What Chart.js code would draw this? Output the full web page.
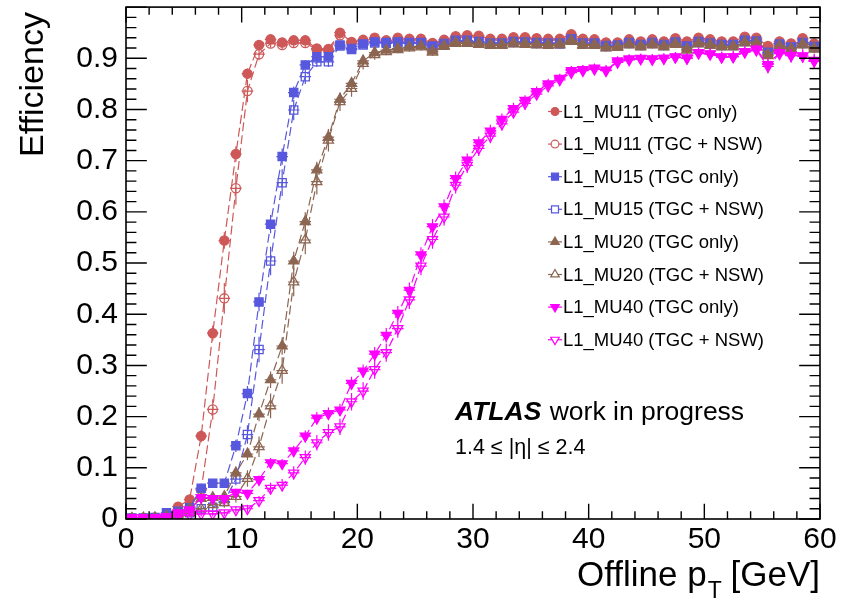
<!DOCTYPE html>
<html>
<head>
<meta charset="utf-8">
<script src="https://cdn.jsdelivr.net/npm/chart.js@4.4.0/dist/chart.umd.min.js"></script>
<style>
html,body{margin:0;padding:0;background:#fff;}
canvas{display:block;}
</style>
</head>
<body>
<canvas id="c" width="845" height="603"></canvas>
<script>
// ---------- data ----------
const binCenters = [0.5,1.5,2.5,3.5,4.5,5.5,6.5,7.5,8.5,9.5,
  10.5,11.5,12.5,13.5,14.5,15.5,16.5,17.5,18.5,19.5,
  20.5,21.5,22.5,23.5,24.5,25.5,26.5,27.5,28.5,29.5,
  30.5,31.5,32.5,33.5,34.5,35.5,36.5,37.5,38.5,39.5,
  40.5,41.5,42.5,43.5,44.5,45.5,46.5,47.5,48.5,49.5,
  50.5,51.5,52.5,53.5,54.5,55.5,56.5,57.5,58.5,59.5];
const binHalfWidth = 0.5;

const seriesLabels = ['L1_MU11 (TGC only)','L1_MU11 (TGC + NSW)','L1_MU15 (TGC only)','L1_MU15 (TGC + NSW)',
  'L1_MU20 (TGC only)','L1_MU20 (TGC + NSW)','L1_MU40 (TGC only)','L1_MU40 (TGC + NSW)'];

const mu11Tgc = [0.002,0.002,0.003,0.008,0.024,0.038,0.162,0.363,0.544,0.713,
  0.870,0.926,0.937,0.931,0.935,0.935,0.919,0.918,0.950,0.932,
  0.936,0.940,0.935,0.940,0.938,0.938,0.930,0.936,0.943,0.945,
  0.944,0.938,0.938,0.941,0.941,0.939,0.938,0.938,0.947,0.938,
  0.937,0.931,0.931,0.937,0.933,0.937,0.933,0.939,0.933,0.940,
  0.937,0.933,0.933,0.942,0.940,0.924,0.933,0.929,0.939,0.929];
const mu11Nsw = [0.001,0.001,0.002,0.004,0.012,0.022,0.057,0.214,0.431,0.646,
  0.836,0.908,0.929,0.926,0.930,0.930,0.917,0.915,0.945,0.930,
  0.933,0.937,0.932,0.937,0.935,0.936,0.928,0.933,0.940,0.942,
  0.941,0.936,0.935,0.938,0.939,0.936,0.935,0.936,0.944,0.935,
  0.934,0.929,0.928,0.934,0.931,0.934,0.930,0.936,0.930,0.937,
  0.934,0.930,0.931,0.939,0.937,0.921,0.930,0.926,0.936,0.926];
const mu15Tgc = [0.002,0.002,0.003,0.012,0.015,0.022,0.060,0.070,0.070,0.143,
  0.245,0.424,0.576,0.708,0.833,0.887,0.903,0.903,0.926,0.919,
  0.928,0.932,0.931,0.932,0.931,0.931,0.924,0.929,0.935,0.935,
  0.933,0.930,0.930,0.933,0.932,0.931,0.930,0.930,0.938,0.930,
  0.930,0.925,0.926,0.931,0.927,0.931,0.927,0.932,0.924,0.933,
  0.930,0.927,0.927,0.935,0.934,0.912,0.928,0.922,0.931,0.923];
const mu15Nsw = [0.001,0.001,0.002,0.005,0.008,0.012,0.020,0.023,0.034,0.078,
  0.165,0.331,0.504,0.657,0.799,0.864,0.893,0.893,0.924,0.917,
  0.926,0.930,0.929,0.930,0.929,0.929,0.922,0.927,0.933,0.933,
  0.931,0.928,0.928,0.931,0.930,0.929,0.928,0.928,0.936,0.928,
  0.928,0.923,0.924,0.929,0.925,0.929,0.925,0.930,0.922,0.931,
  0.928,0.925,0.925,0.933,0.932,0.910,0.926,0.920,0.929,0.921];
const mu20Tgc = [0.001,0.002,0.002,0.005,0.010,0.020,0.040,0.042,0.044,0.090,
  0.127,0.205,0.272,0.338,0.504,0.581,0.682,0.746,0.820,0.851,
  0.895,0.911,0.916,0.919,0.922,0.924,0.914,0.925,0.931,0.931,
  0.929,0.927,0.927,0.930,0.929,0.928,0.927,0.928,0.935,0.927,
  0.927,0.922,0.923,0.928,0.924,0.928,0.924,0.929,0.918,0.930,
  0.927,0.924,0.924,0.932,0.931,0.907,0.925,0.919,0.928,0.920];
const mu20Nsw = [0.001,0.001,0.002,0.003,0.006,0.012,0.020,0.028,0.032,0.044,
  0.079,0.141,0.221,0.290,0.463,0.545,0.659,0.740,0.815,0.841,
  0.890,0.907,0.913,0.917,0.920,0.922,0.912,0.923,0.929,0.929,
  0.927,0.925,0.925,0.928,0.927,0.926,0.925,0.926,0.933,0.925,
  0.925,0.920,0.921,0.926,0.922,0.926,0.922,0.927,0.916,0.928,
  0.925,0.922,0.922,0.930,0.929,0.905,0.923,0.917,0.926,0.918];
const mu40Tgc = [0.003,0.003,0.003,0.005,0.012,0.018,0.042,0.040,0.040,0.052,
  0.050,0.077,0.110,0.108,0.133,0.162,0.197,0.206,0.213,0.265,
  0.289,0.322,0.359,0.402,0.447,0.516,0.571,0.610,0.665,0.701,
  0.735,0.758,0.781,0.802,0.818,0.835,0.850,0.861,0.876,0.878,
  0.881,0.876,0.895,0.899,0.900,0.899,0.900,0.903,0.901,0.911,
  0.909,0.903,0.903,0.913,0.918,0.888,0.911,0.906,0.905,0.894];
const mu40Nsw = [0.002,0.002,0.002,0.003,0.006,0.008,0.010,0.010,0.012,0.018,
  0.020,0.036,0.060,0.066,0.090,0.120,0.149,0.169,0.180,0.229,
  0.250,0.292,0.325,0.372,0.428,0.494,0.546,0.590,0.652,0.691,
  0.724,0.748,0.772,0.795,0.812,0.830,0.846,0.858,0.872,0.876,
  0.879,0.877,0.892,0.897,0.899,0.898,0.900,0.902,0.900,0.910,
  0.908,0.902,0.903,0.912,0.916,0.884,0.909,0.905,0.904,0.896];

// vertical (statistical) error bars
const errMu11Tgc = [0.001,0.001,0.002,0.003,0.006,0.008,0.012,0.015,0.016,0.015,
  0.010,0.007,0.006,0.006,0.006,0.006,0.007,0.007,0.006,0.006,
  0.005,0.005,0.005,0.005,0.005,0.005,0.005,0.005,0.005,0.005,
  0.005,0.005,0.005,0.005,0.005,0.005,0.005,0.005,0.005,0.005,
  0.005,0.005,0.005,0.005,0.005,0.005,0.005,0.005,0.005,0.005,
  0.005,0.005,0.005,0.005,0.005,0.006,0.006,0.006,0.006,0.006];
const errMu11Nsw = [0.001,0.001,0.002,0.003,0.005,0.007,0.012,0.020,0.030,0.032,
  0.022,0.012,0.008,0.008,0.008,0.008,0.009,0.009,0.008,0.008,
  0.006,0.006,0.006,0.006,0.006,0.006,0.006,0.006,0.006,0.006,
  0.006,0.006,0.006,0.006,0.006,0.006,0.006,0.006,0.006,0.006,
  0.006,0.006,0.006,0.006,0.006,0.006,0.006,0.006,0.006,0.006,
  0.006,0.006,0.006,0.006,0.006,0.007,0.007,0.007,0.007,0.007];
const errMu15Tgc = [0.001,0.001,0.002,0.003,0.004,0.005,0.008,0.008,0.008,0.012,
  0.015,0.018,0.018,0.016,0.012,0.009,0.008,0.008,0.007,0.007,
  0.005,0.005,0.005,0.005,0.005,0.005,0.005,0.005,0.005,0.005,
  0.005,0.005,0.005,0.005,0.005,0.005,0.005,0.005,0.005,0.005,
  0.005,0.005,0.005,0.005,0.005,0.005,0.005,0.005,0.005,0.005,
  0.005,0.005,0.005,0.005,0.005,0.006,0.006,0.006,0.006,0.006];
const errMu15Nsw = [0.001,0.001,0.002,0.003,0.004,0.005,0.006,0.006,0.008,0.012,
  0.018,0.025,0.028,0.026,0.020,0.014,0.010,0.010,0.008,0.008,
  0.006,0.006,0.006,0.006,0.006,0.006,0.006,0.006,0.006,0.006,
  0.006,0.006,0.006,0.006,0.006,0.006,0.006,0.006,0.006,0.006,
  0.006,0.006,0.006,0.006,0.006,0.006,0.006,0.006,0.006,0.006,
  0.006,0.006,0.006,0.006,0.006,0.007,0.007,0.007,0.007,0.007];
const errMu20Tgc = [0.001,0.001,0.002,0.003,0.004,0.005,0.007,0.007,0.007,0.010,
  0.012,0.014,0.016,0.017,0.018,0.018,0.016,0.014,0.012,0.011,
  0.009,0.008,0.006,0.006,0.006,0.006,0.006,0.006,0.006,0.006,
  0.006,0.006,0.006,0.006,0.006,0.006,0.006,0.006,0.006,0.006,
  0.006,0.006,0.006,0.006,0.006,0.006,0.006,0.006,0.006,0.006,
  0.006,0.006,0.006,0.006,0.006,0.007,0.007,0.007,0.007,0.007];
const errMu20Nsw = [0.001,0.001,0.002,0.003,0.004,0.005,0.006,0.008,0.010,0.012,
  0.016,0.020,0.024,0.026,0.028,0.028,0.025,0.022,0.018,0.016,
  0.012,0.010,0.007,0.007,0.007,0.007,0.007,0.007,0.007,0.007,
  0.007,0.007,0.007,0.007,0.007,0.007,0.007,0.007,0.007,0.007,
  0.007,0.007,0.007,0.007,0.007,0.007,0.007,0.007,0.007,0.007,
  0.007,0.007,0.007,0.007,0.007,0.008,0.008,0.008,0.008,0.008];
const errMu40Tgc = [0.001,0.001,0.002,0.003,0.004,0.005,0.006,0.006,0.006,0.007,
  0.007,0.008,0.009,0.009,0.010,0.011,0.012,0.012,0.012,0.013,
  0.013,0.014,0.014,0.014,0.015,0.015,0.015,0.014,0.014,0.013,
  0.012,0.012,0.011,0.011,0.010,0.010,0.010,0.009,0.009,0.009,
  0.009,0.009,0.009,0.009,0.009,0.009,0.009,0.009,0.009,0.010,
  0.010,0.010,0.010,0.010,0.010,0.012,0.012,0.012,0.012,0.012];
const errMu40Nsw = [0.001,0.001,0.002,0.003,0.004,0.004,0.005,0.005,0.006,0.007,
  0.008,0.009,0.011,0.012,0.013,0.014,0.015,0.016,0.016,0.017,
  0.017,0.018,0.018,0.018,0.018,0.018,0.018,0.017,0.016,0.015,
  0.015,0.014,0.013,0.012,0.012,0.011,0.011,0.010,0.010,0.010,
  0.010,0.010,0.010,0.010,0.010,0.010,0.010,0.010,0.010,0.011,
  0.011,0.011,0.011,0.011,0.011,0.013,0.013,0.013,0.013,0.013];

const xTickLabels = ['0','10','20','30','40','50','60'];
const yTickLabels = ['0','0.1','0.2','0.3','0.4','0.5','0.6','0.7','0.8','0.9',''];

// ---------- styles ----------
const FONT = '"Liberation Sans", Arial, Helvetica, sans-serif';
const RED = 'rgb(206,88,88)', BLUE = 'rgb(88,88,222)', BROWN = 'rgb(140,102,82)', MAGENTA = 'rgb(255,0,255)';
const styleList = [
  {color: RED, pointStyle: 'circle', rot: 0, r: 4.6, filled: true},
  {color: RED, pointStyle: 'circle', rot: 0, r: 4.6, filled: false},
  {color: BLUE, pointStyle: 'rect', rot: 0, r: 5.8, filled: true},
  {color: BLUE, pointStyle: 'rect', rot: 0, r: 5.8, filled: false},
  {color: BROWN, pointStyle: 'triangle', rot: 0, r: 5.8, filled: true},
  {color: BROWN, pointStyle: 'triangle', rot: 0, r: 5.8, filled: false},
  {color: MAGENTA, pointStyle: 'triangle', rot: 180, r: 5.8, filled: true},
  {color: MAGENTA, pointStyle: 'triangle', rot: 180, r: 5.8, filled: false}
];
const valueLists = [mu11Tgc, mu11Nsw, mu15Tgc, mu15Nsw, mu20Tgc, mu20Nsw, mu40Tgc, mu40Nsw];
const errLists = [errMu11Tgc, errMu11Nsw, errMu15Tgc, errMu15Nsw, errMu20Tgc, errMu20Nsw, errMu40Tgc, errMu40Nsw];

const datasets = valueLists.map((vals, i) => {
  const s = styleList[i];
  return {
    label: seriesLabels[i],
    data: binCenters.map((c, k) => ({x: c, y: vals[k]})),
    errs: errLists[i],
    borderColor: s.color,
    backgroundColor: s.color,
    borderWidth: 1.2,
    borderDash: [9, 4],
    pointStyle: s.pointStyle,
    pointRotation: s.rot,
    pointRadius: s.r,
    pointBorderWidth: 1.3,
    pointBackgroundColor: s.filled ? s.color : 'rgba(0,0,0,0)',
    pointBorderColor: s.color,
    fill: false,
    tension: 0,
    order: 7 - i,
    _filled: s.filled
  };
});

// ---------- decorations (ROOT-like frame, inward ticks, errors, legend, texts) ----------
function drawMarker(ctx, style, x, y, r, rot) {
  if (Chart.helpers && Chart.helpers.drawPoint) {
    Chart.helpers.drawPoint(ctx, {pointStyle: style, rotation: rot, radius: r, borderWidth: ctx.lineWidth}, x, y);
  }
}

const rootPlugin = {
  id: 'rootStyle',
  beforeDatasetDraw(chart, args) {
    const ds = chart.data.datasets[args.index];
    const xs = chart.scales.x, ys = chart.scales.y, ca = chart.chartArea;
    const ctx = chart.ctx;
    ctx.save();
    ctx.beginPath();
    ctx.rect(ca.left, ca.top, ca.right - ca.left, ca.bottom - ca.top);
    ctx.clip();
    ctx.strokeStyle = ds.borderColor;
    ctx.lineWidth = 1.2;
    ctx.setLineDash([]);
    ctx.beginPath();
    ds.data.forEach((p, i) => {
      const px = xs.getPixelForValue(p.x), py = ys.getPixelForValue(p.y);
      ctx.moveTo(xs.getPixelForValue(p.x - binHalfWidth), py);
      ctx.lineTo(xs.getPixelForValue(p.x + binHalfWidth), py);
      const e = ds.errs[i];
      ctx.moveTo(px, ys.getPixelForValue(p.y - e));
      ctx.lineTo(px, ys.getPixelForValue(p.y + e));
    });
    ctx.stroke();
    ctx.restore();
  },
  afterDraw(chart) {
    const ctx = chart.ctx, ca = chart.chartArea;
    const xs = chart.scales.x, ys = chart.scales.y;
    ctx.save();
    // frame
    ctx.strokeStyle = '#000';
    ctx.lineWidth = 1.6;
    ctx.setLineDash([]);
    ctx.strokeRect(ca.left, ca.top, ca.right - ca.left, ca.bottom - ca.top);
    // ticks, drawn inward on all four sides
    const xMaj = 0.03 * (ca.bottom - ca.top), yMaj = 0.03 * (ca.right - ca.left);
    ctx.lineWidth = 1.4;
    ctx.beginPath();
    const xStep = 10, xMinor = 2;
    for (let k = 0; k <= Math.round((xs.max - xs.min) / xMinor); k++) {
      const v = xs.min + k * xMinor;
      const len = (k % (xStep / xMinor) === 0) ? xMaj : xMaj / 2;
      const px = xs.getPixelForValue(v);
      ctx.moveTo(px, ca.bottom); ctx.lineTo(px, ca.bottom - len);
      ctx.moveTo(px, ca.top); ctx.lineTo(px, ca.top + len);
    }
    const yStep = 0.1, yMinor = 0.02;
    for (let k = 0; k <= Math.round((ys.max - ys.min) / yMinor); k++) {
      const v = ys.min + k * yMinor;
      const len = (k % Math.round(yStep / yMinor) === 0) ? yMaj : yMaj / 2;
      const py = ys.getPixelForValue(v);
      ctx.moveTo(ca.left, py); ctx.lineTo(ca.left + len, py);
      ctx.moveTo(ca.right, py); ctx.lineTo(ca.right - len, py);
    }
    ctx.stroke();

    // axis titles
    ctx.fillStyle = '#000';
    ctx.textBaseline = 'alphabetic';
    // y title (rotated, aligned to the top end)
    ctx.save();
    ctx.translate(43, ca.top + 5);
    ctx.rotate(-Math.PI / 2);
    ctx.textAlign = 'right';
    ctx.font = '34px ' + FONT;
    ctx.fillText('Efficiency', 0, 0);
    ctx.restore();
    // x title with subscript, aligned to the right end
    const mainFont = '35px ' + FONT, subFont = '23px ' + FONT;
    ctx.font = mainFont;
    const t1 = 'Offline p', t3 = ' [GeV]';
    const w1 = ctx.measureText(t1).width, w3 = ctx.measureText(t3).width;
    ctx.font = subFont;
    const w2 = ctx.measureText('T').width;
    const xEnd = ca.right, base = 586;
    let x0 = xEnd - (w1 + w2 + w3);
    ctx.textAlign = 'left';
    ctx.font = mainFont; ctx.fillText(t1, x0, base);
    ctx.font = subFont; ctx.fillText('T', x0 + w1 + 1, base + 12);
    ctx.font = mainFont; ctx.fillText(t3, x0 + w1 + w2, base);

    // legend
    const legX = 555, legTextX = 563, legY0 = 111.5, legDy = 32.6;
    ctx.font = '18.5px ' + FONT;
    ctx.textBaseline = 'middle';
    chart.data.datasets.forEach((ds, i) => {
      const y = legY0 + i * legDy;
      ctx.strokeStyle = ds.borderColor;
      ctx.lineWidth = 1.2;
      ctx.beginPath();
      ctx.moveTo(legX - 7, y); ctx.lineTo(legX + 7, y);
      ctx.stroke();
      ctx.fillStyle = ds._filled ? ds.borderColor : '#fff';
      ctx.lineWidth = 1.2;
      drawMarker(ctx, ds.pointStyle, legX, y, ds.pointRadius * 0.85, ds.pointRotation);
      ctx.fillStyle = '#000';
      ctx.fillText(ds.label, legTextX, y + 1);
    });

    // ATLAS label
    ctx.textBaseline = 'alphabetic';
    ctx.fillStyle = '#000';
    ctx.font = 'italic bold 26.5px ' + FONT;
    ctx.fillText('ATLAS', 455, 420);
    const wa = ctx.measureText('ATLAS').width;
    ctx.font = '26.5px ' + FONT;
    ctx.fillText(' work in progress', 455 + wa + 1, 420);
    ctx.font = '21.5px ' + FONT;
    ctx.fillText('1.4 \u2264 |\u03B7| \u2264 2.4', 455, 454);
    ctx.restore();
  }
};

new Chart(document.getElementById('c'), {
  type: 'line',
  data: {datasets},
  options: {
    responsive: false,
    animation: false,
    events: [],
    layout: {padding: {left: 0, right: 25, top: 7, bottom: 0}},
    plugins: {legend: {display: false}, tooltip: {enabled: false}},
    scales: {
      x: {
        type: 'linear', min: 0, max: 60,
        grid: {display: false, drawTicks: false},
        border: {display: false},
        afterFit: s => { s.height = 84; s.paddingLeft = 0; s.paddingRight = 0; },
        afterBuildTicks: s => { s.ticks = xTickLabels.map(t => ({value: Number(t)})); },
        ticks: {
          padding: 3, autoSkip: false, maxRotation: 0, color: '#000',
          font: {family: FONT, size: 30},
          callback: (v, i) => xTickLabels[i]
        }
      },
      y: {
        type: 'linear', min: 0, max: 1,
        grid: {display: false, drawTicks: false},
        border: {display: false},
        afterFit: s => { s.width = 126; s.paddingTop = 0; s.paddingBottom = 0; },
        afterBuildTicks: s => { s.ticks = yTickLabels.map((t, i) => ({value: i / 10})); },
        ticks: {
          padding: 8, color: '#000',
          font: {family: FONT, size: 30},
          callback: (v, i) => yTickLabels[i]
        }
      }
    }
  },
  plugins: [rootPlugin]
});
</script>
</body>
</html>
